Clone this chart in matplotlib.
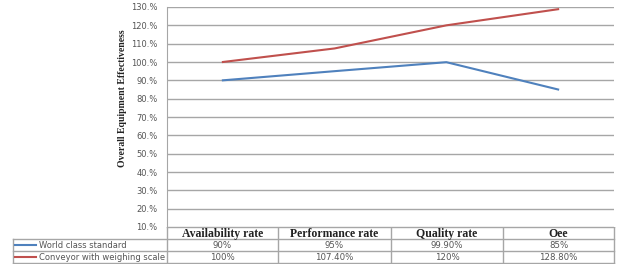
import matplotlib
matplotlib.use("Agg")
import matplotlib.pyplot as plt

categories = ["Availability rate", "Performance rate", "Quality rate", "Oee"]
series_names = ["World class standard", "Conveyor with weighing scale"]
world_class = [90, 95, 99.9, 85]
conveyor = [100, 107.4, 120, 128.8]
world_labels = ["90%", "95%", "99.90%", "85%"]
conveyor_labels = ["100%", "107.40%", "120%", "128.80%"]
yticks = [10, 20, 30, 40, 50, 60, 70, 80, 90, 100, 110, 120, 130]
ytick_labels = ["%d.%%" % v for v in yticks]
colors = ["#4F81BD", "#C0504D"]

W, H = 625, 278
fig = plt.figure(figsize=(W / 100, H / 100), dpi=100)
fig.patch.set_facecolor("white")

def px_axes(x0, y0, x1, y1):
    return fig.add_axes([x0 / W, 1 - y1 / H, (x1 - x0) / W, (y1 - y0) / H])

# main plot
ax = px_axes(167, 7, 614, 227)
xs = list(range(len(categories)))
ax.plot(xs, world_class, color=colors[0], lw=1.5)
ax.plot(xs, conveyor, color=colors[1], lw=1.5)
ax.set_xlim(-0.5, len(categories) - 0.5)
ax.set_ylim(10, 130)
ax.set_yticks(yticks)
ax.set_yticklabels(ytick_labels, fontsize=6, color="#555555", family="DejaVu Sans")
ax.tick_params(axis="y", length=0, pad=7)
ax.set_xticks([])
ax.grid(axis="y", color="#A6A6A6", lw=1)
for s in ["top", "right", "bottom"]:
    ax.spines[s].set_visible(False)
ax.spines["left"].set_color("#A6A6A6")
ax.set_axisbelow(True)
fig.text(122 / W, 1 - 98 / H, "Overall Equipment Effectiveness", rotation=90,
         ha="center", va="center", family="Liberation Serif",
         fontweight="bold", fontsize=7, color="#222222")

# data table
tax = px_axes(0, 227, W, 264)
tax.set_xlim(0, W)
tax.set_ylim(264, 227)
tax.axis("off")
lc = "#A6A6A6"
col_edges = [167, 278, 391, 503, 614]
rows = [227, 239.3, 251.3, 263.3]
tax.plot([167, 614], [rows[0], rows[0]], color=lc, lw=1)
for r in rows[1:]:
    tax.plot([13, 614], [r, r], color=lc, lw=1)
for x in col_edges:
    tax.plot([x, x], [rows[0], rows[3]], color=lc, lw=1)
tax.plot([13, 13], [rows[1], rows[3]], color=lc, lw=1)

for i, c in enumerate(categories):
    cx = (col_edges[i] + col_edges[i + 1]) / 2
    tax.text(cx, (rows[0] + rows[1]) / 2 + 0.5, c, ha="center", va="center",
             family="Liberation Serif", fontweight="bold", fontsize=8.5, color="#222222")
    tax.text(cx, (rows[1] + rows[2]) / 2, world_labels[i], ha="center", va="center",
             family="DejaVu Sans", fontsize=6.2, color="#555555")
    tax.text(cx, (rows[2] + rows[3]) / 2, conveyor_labels[i], ha="center", va="center",
             family="DejaVu Sans", fontsize=6.2, color="#555555")

for j, name in enumerate(series_names):
    yc = (rows[1 + j] + rows[2 + j]) / 2
    tax.plot([15, 36], [yc, yc], color=colors[j], lw=1.5)
    tax.text(39, yc, name, ha="left", va="center", family="DejaVu Sans",
             fontsize=6, color="#555555")

fig.savefig("out.png", dpi=100, facecolor="white")
